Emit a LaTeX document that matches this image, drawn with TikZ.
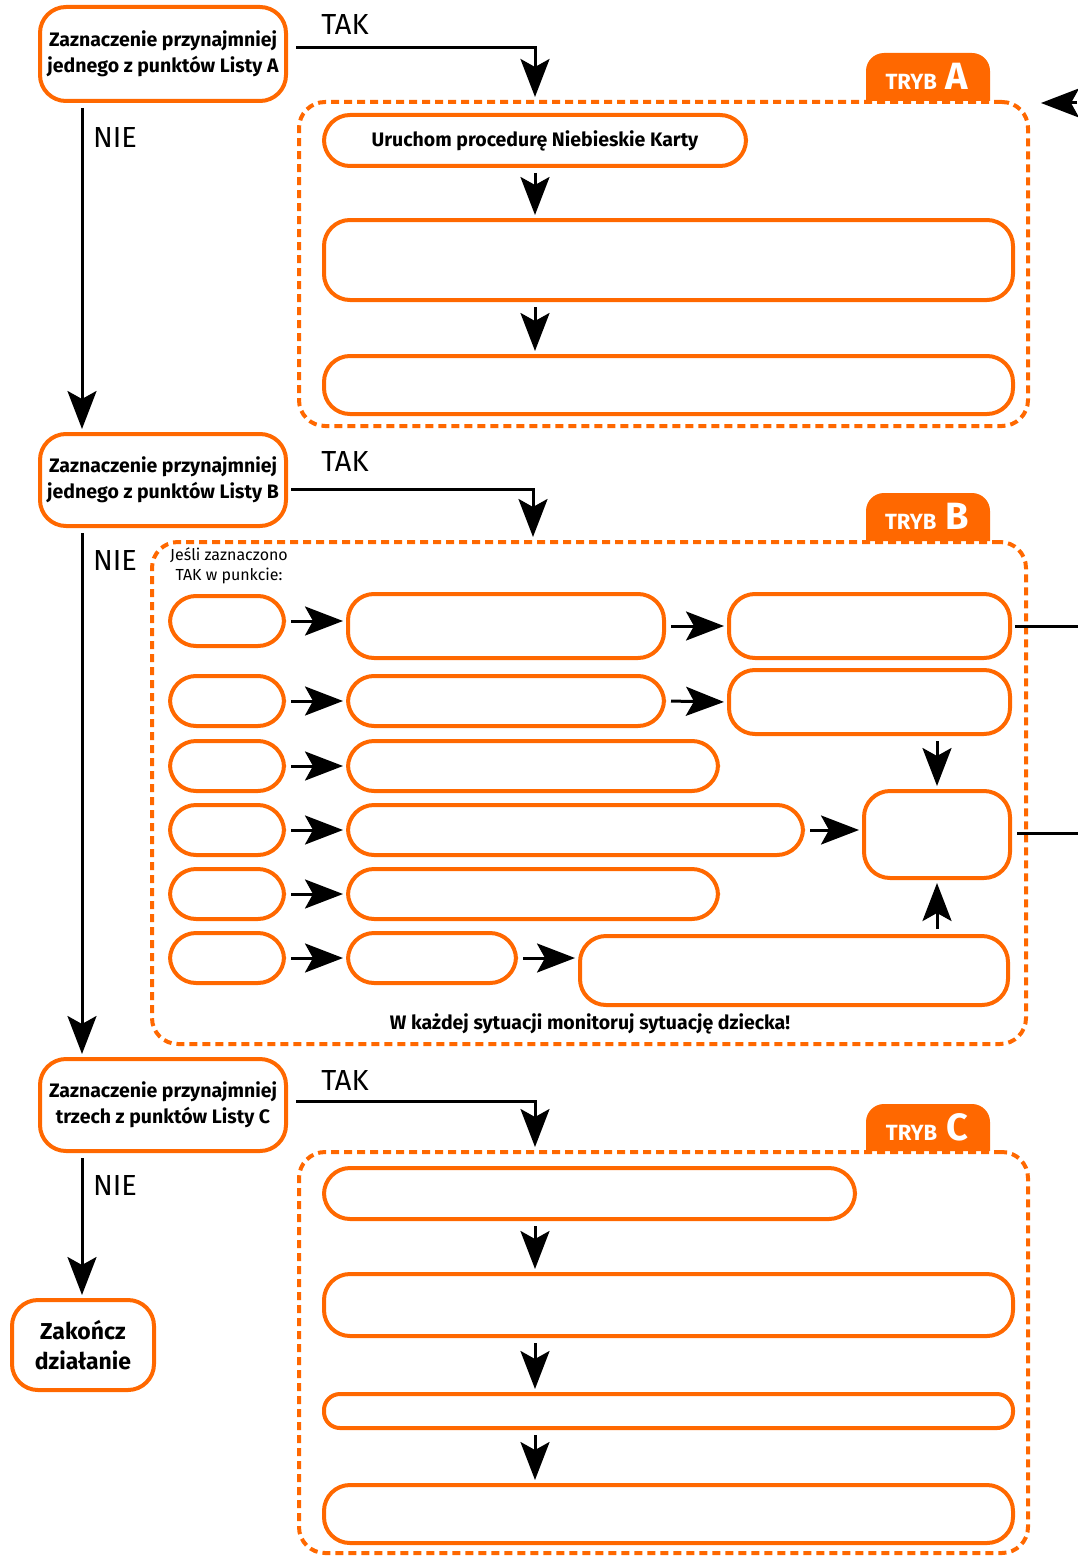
\documentclass[tikz,border=0pt]{standalone}
\usepackage{fontspec}
\setmainfont{Fira Sans}
\usetikzlibrary{arrows.meta}

\definecolor{orng}{RGB}{255,104,0}

\newcommand{\tryb}[1]{{\fontsize{22}{22}\selectfont TRYB}\hspace{9pt}{\fontsize{38}{38}\selectfont #1}}

\begin{document}
\begin{tikzpicture}[x=1pt,y=-1pt,
  box/.style={draw=orng, line width=4pt, rounded corners=26pt, inner sep=0pt, align=center},
  dashframe/.style={draw=orng, line width=4pt, dash pattern=on 8pt off 5pt, rounded corners=26pt, inner sep=0pt},
  oval/.style={box, minimum width=114pt, minimum height=50pt},
  arr/.style={line width=3pt, -{Stealth[length=38pt,width=29pt,inset=8pt]}, shorten <=5pt, shorten >=3pt},
  qtext/.style={font=\bfseries\fontsize{19.5}{26}\selectfont},
  yesno/.style={font=\fontsize{29}{29}\selectfont, inner sep=0pt},
  tabtext/.style={text=white, font=\bfseries, inner sep=0pt}
]
  \useasboundingbox (0,0) rectangle (1078,1557);
  \coordinate (spine) at (82,0);
  \coordinate (mid) at (535,0);

  % Draw the question boxes
  \node[box, qtext, minimum width=246pt, minimum height=94pt] (qA) at (163,54) {Zaznaczenie przynajmniej\\jednego z punktów Listy A};
  \node[box, qtext, minimum width=246pt, minimum height=92pt] (qB) at (163,480) {Zaznaczenie przynajmniej\\jednego z punktów Listy B};
  \node[box, qtext, minimum width=246pt, minimum height=92pt] (qC) at (163,1105) {Zaznaczenie przynajmniej\\trzech z punktów Listy C};
  \node[box, font=\bfseries\fontsize{23}{30}\selectfont, minimum width=142pt, minimum height=90pt] (stop) at (83,1345) {Zakończ\\działanie};

  % Draw the tabs
  \fill[orng, rounded corners=18pt] (866,101) -- (866,53) -- (990,53) -- (990,101);
  \fill[orng, rounded corners=18pt] (866,541) -- (866,493) -- (990,493) -- (990,541);
  \fill[orng, rounded corners=18pt] (866,1151) -- (866,1104) -- (990,1104) -- (990,1151);
  \node[tabtext] (tA) at (927,76) {\tryb{A}};
  \node[tabtext] (tB) at (927,516) {\tryb{B}};
  \node[tabtext] (tC) at (927,1127) {\tryb{C}};

  % Draw the frames
  \node[dashframe, minimum width=729pt, minimum height=324pt] (frA) at (663.5,264) {};
  \node[dashframe, minimum width=874pt, minimum height=502pt] (frB) at (589,793) {};
  \node[dashframe, minimum width=729pt, minimum height=401pt] (frC) at (663.5,1352.5) {};

  % Tryb A
  \node[box, font=\bfseries\fontsize{19.5}{24}\selectfont, minimum width=422pt, minimum height=51pt] (a1) at (535,140.5) {Uruchom procedurę Niebieskie Karty};
  \node[box, minimum width=689pt, minimum height=80pt] (a2) at (668.5,260) {};
  \node[box, minimum width=689pt, minimum height=58pt] (a3) at (668.5,385) {};

  % Tryb B
  \node[font=\fontsize{16}{20}\selectfont, align=center, inner sep=0pt] (note) at (229,566) {Jeśli zaznaczono\\TAK w punkcie:};
  \node[oval] (o1) at (227,621) {};
  \node[oval] (o2) at (227,701) {};
  \node[oval] (o3) at (227,766) {};
  \node[oval] (o4) at (227,830) {};
  \node[oval] (o5) at (227,894) {};
  \node[oval] (o6) at (227,958) {};
  \node[box, minimum width=316pt, minimum height=64pt] (m1) at (506,626) {};
  \node[box, minimum width=316pt, minimum height=50pt] (m2) at (506,701) {};
  \node[box, minimum width=370pt, minimum height=50pt] (m3) at (533,766) {};
  \node[box, minimum width=455pt, minimum height=50pt] (m4) at (575.5,830) {};
  \node[box, minimum width=370pt, minimum height=50pt] (m5) at (533,894) {};
  \node[box, minimum width=168pt, minimum height=50pt] (m6) at (432,958) {};
  \node[box, minimum width=281pt, minimum height=64pt] (r1) at (869.5,626) {};
  \node[box, minimum width=281pt, minimum height=64pt] (r2) at (869.5,702) {};
  \node[box, minimum width=146pt, minimum height=87pt] (sq) at (937,834.5) {};
  \node[box, minimum width=428pt, minimum height=69pt] (r6) at (794,970.5) {};
  \node[font=\bfseries\fontsize{19.5}{24}\selectfont, inner sep=0pt] (watch) at (590,1024) {W każdej sytuacji monitoruj sytuację dziecka!};

  % Tryb C
  \node[box, minimum width=531pt, minimum height=51pt] (c1) at (589.5,1193.5) {};
  \node[box, minimum width=689pt, minimum height=62pt] (c2) at (668.5,1305) {};
  \node[box, rounded corners=16pt, minimum width=689pt, minimum height=34pt] (c3) at (668.5,1411) {};
  \node[box, minimum width=689pt, minimum height=58pt] (c4) at (668.5,1514) {};

  % Draw the labels
  \node[yesno] (takA) at (345,25) {TAK};
  \node[yesno] (takB) at (345,462) {TAK};
  \node[yesno] (takC) at (345,1080) {TAK};
  \node[yesno] (nieA) at (115,138) {NIE};
  \node[yesno] (nieB) at (115,561) {NIE};
  \node[yesno] (nieC) at (115,1185) {NIE};

  % Draw the edges
  \draw[arr, shorten <=8pt] ([yshift=6pt]qA.east) -| (mid |- frA.north);
  \draw[arr, shorten <=3pt] ([yshift=-9pt]qB.east) -| ([xshift=-2pt]mid |- frB.north);
  \draw[arr, shorten <=8pt] ([yshift=4pt]qC.east) -| (mid |- frC.north);
  \draw[arr] (spine |- qA.south) -- (spine |- qB.north);
  \draw[arr] (spine |- qB.south) -- (spine |- qC.north);
  \draw[arr] (spine |- qC.south) -- (spine |- stop.north);

  \draw[arr] (mid |- a1.south) -- (mid |- a2.north);
  \draw[arr] (mid |- a2.south) -- (mid |- a3.north);

  \foreach \i in {1,...,6}
    \draw[arr] (o\i.east) -- (o\i.east -| m\i.west);
  \draw[arr] (m1.east) -- (r1.west);
  \draw[arr] (m2.east) -- (r2.west);
  \draw[arr] (m4.east) -- (m4.east -| sq.west);
  \draw[arr] (m6.east) -- (m6.east -| r6.west);
  \draw[arr] (r2.south -| sq) -- (sq.north);
  \draw[arr] (r6.north -| sq) -- (sq.south);

  \draw[arr] (mid |- c1.south) -- (mid |- c2.north);
  \draw[arr] (mid |- c2.south) -- (mid |- c3.north);
  \draw[arr] (mid |- c3.south) -- (mid |- c4.north);

  % Lines leaving the picture
  \coordinate (backA) at (1082,103);
  \coordinate (outB1) at (1082,626);
  \coordinate (outB2) at (1082,833);
  \draw[arr, shorten >=11pt] (backA) -- (backA -| frA.east);
  \draw[line width=3pt, shorten <=3pt] (r1.east) -- (outB1);
  \draw[line width=3pt, shorten <=5pt] (sq.east |- outB2) -- (outB2);
\end{tikzpicture}
\end{document}
